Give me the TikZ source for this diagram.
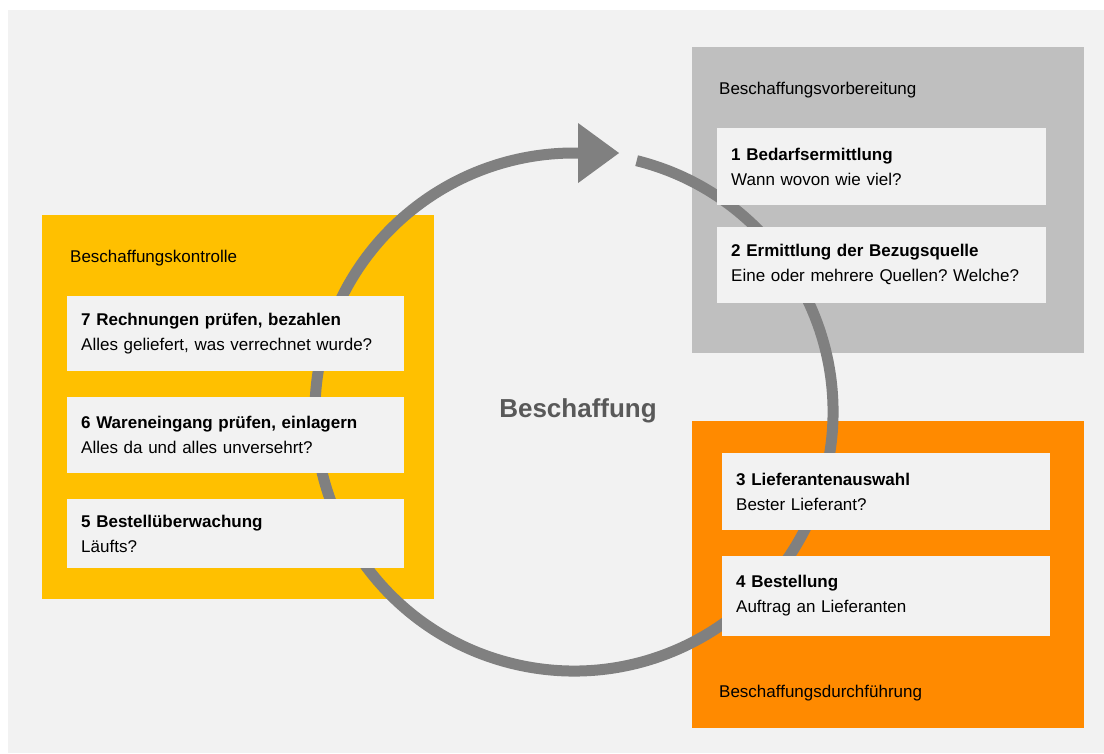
\documentclass[tikz,border=0pt]{standalone}
\usepackage{fontspec}
\setmainfont{Liberation Sans}
\usetikzlibrary{arrows.meta,positioning}
\frenchspacing
\definecolor{bggray}{HTML}{F2F2F2}
\definecolor{kontrollgelb}{HTML}{FFC000}
\definecolor{vorbgrau}{HTML}{BFBFBF}
\definecolor{durchorange}{HTML}{FF8A00}
\definecolor{ringgrau}{HTML}{808080}
\definecolor{titelgrau}{HTML}{595959}
\tikzset{
  x=1pt, y=1pt,
  phase_box/.style = {anchor=north west, inner sep=0pt, minimum width=392pt},
  phase_label/.style = {anchor=base west, inner sep=0pt, font=\fontsize{17}{20}\selectfont},
  step_box/.style = {anchor=north west, fill=bggray, align=left, inner xsep=14pt, inner ysep=0pt, font=\fontsize{17}{25}\selectfont},
  step_y/.style = {step_box, text width=309pt},
  step_g/.style = {step_box, text width=301pt},
  step_o/.style = {step_box, text width=300pt},
  ring/.style = {draw=ringgrau, line width=11pt, -{Triangle[length=41pt, width=60pt, line width=0pt]}},
  title_text/.style = {anchor=base, inner sep=0pt, text=titelgrau, font=\fontsize{26}{30}\selectfont\bfseries}
}
\begin{document}
\begin{tikzpicture}
  \useasboundingbox (0,0) rectangle (1104,753);
  \fill[bggray] (8,0) rectangle (1104,743);

  \node[phase_box, fill=kontrollgelb, minimum height=384pt] (kontrolle) at (42,538) {};
  \node[phase_box, fill=vorbgrau, minimum height=306pt] (vorbereitung) at (692,706) {};
  \node[phase_box, fill=durchorange, minimum height=307pt] (durchfuehrung) at (692,332) {};

  \coordinate (mitte) at (574,341);
  \draw[ring] (mitte) ++(76:259pt) arc[start angle=76, end angle=-270.9, radius=259pt] -- ++(41pt,0);

  \node[phase_label] (kontrolle_label) at (70,490) {Beschaffungskontrolle};
  \node[phase_label] (vorbereitung_label) at (719,658) {Beschaffungsvorbereitung};
  \node[phase_label] (durchfuehrung_label) at (719,56) {Beschaffungsdurchführung};

  \node[step_y, minimum height=75pt] (s7) at (67,457) {\textbf{7 Rechnungen prüfen, bezahlen}\\Alles geliefert, was verrechnet wurde?};
  \node[step_y, minimum height=76pt, below=25pt of s7] (s6) {\textbf{6 Wareneingang prüfen, einlagern}\\Alles da und alles unversehrt?};
  \node[step_y, minimum height=69pt, below=26pt of s6] (s5) {\textbf{5 Bestellüberwachung}\\Läufts?};

  \node[step_g, minimum height=77pt] (s1) at (717,625) {\textbf{1 Bedarfsermittlung}\\Wann wovon wie viel?};
  \node[step_g, minimum height=76pt, below=21pt of s1] (s2) {\textbf{2 Ermittlung der Bezugsquelle}\\Eine oder mehrere Quellen? Welche?};

  \node[step_o, minimum height=77pt] (s3) at (722,300) {\textbf{3 Lieferantenauswahl}\\Bester Lieferant?};
  \node[step_o, minimum height=80pt, below=25pt of s3] (s4) {\textbf{4 Bestellung}\\Auftrag an Lieferanten};

  \node[title_text] (titel) at (578,335) {Beschaffung};
\end{tikzpicture}
\end{document}
